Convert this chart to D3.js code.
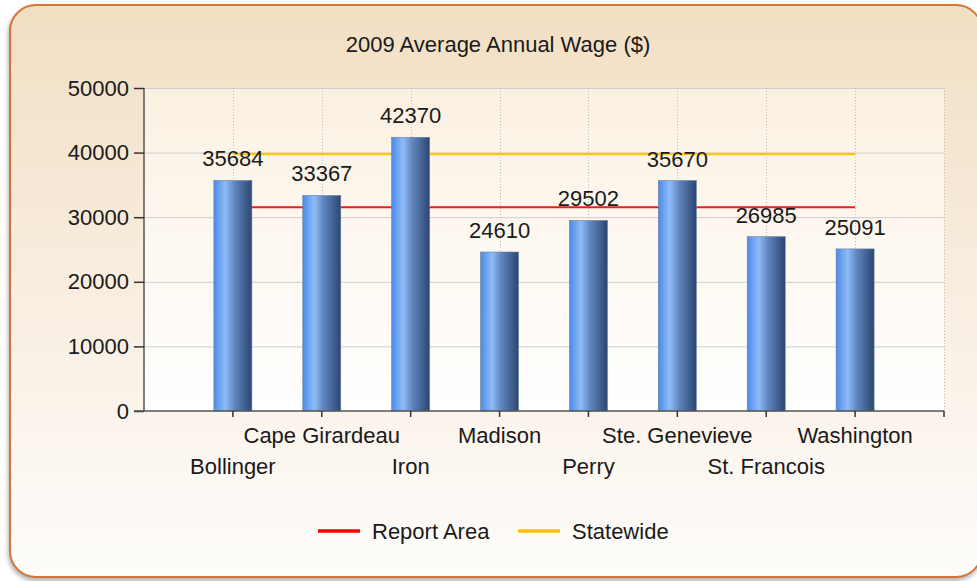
<!DOCTYPE html>
<html>
<head>
<meta charset="utf-8">
<script src="https://d3js.org/d3.v7.min.js"></script>
<style>
  body { margin: 0; background: #ffffff; }
  text { font-family: "Liberation Sans", Arial, sans-serif; fill: #1a1a1a; }
</style>
</head>
<body>
<svg id="chart"></svg>
<script>
// data
const counties = ["Bollinger", "Cape Girardeau", "Iron", "Madison", "Perry", "Ste. Genevieve", "St. Francois", "Washington"];
const wages = [35684, 33367, 42370, 24610, 29502, 35670, 26985, 25091];
const reportArea = [31530, 31530, 31530, 31530, 31530, 31530, 31530, 31530];
const statewide = [39780, 39780, 39780, 39780, 39780, 39780, 39780, 39780];
const yTicks = [0, 10000, 20000, 30000, 40000, 50000];

const width = 977, height = 581;
const plotL = 144, plotR = 944, plotT = 88, plotB = 411;
const fs = "22px";

const svg = d3.select("#chart").attr("width", width).attr("height", height);
const defs = svg.append("defs");

// panel background gradient
const pg = defs.append("linearGradient").attr("id", "panelGrad").attr("x1", 0).attr("y1", 0).attr("x2", 0).attr("y2", 1);
pg.append("stop").attr("offset", "0%").attr("stop-color", "#f2dfc3");
pg.append("stop").attr("offset", "55%").attr("stop-color", "#f9efe3");
pg.append("stop").attr("offset", "100%").attr("stop-color", "#fefdfb");

// plot area gradient
const ag = defs.append("linearGradient").attr("id", "areaGrad").attr("x1", 0).attr("y1", 0).attr("x2", 0).attr("y2", 1);
ag.append("stop").attr("offset", "0%").attr("stop-color", "#fbf1e2");
ag.append("stop").attr("offset", "100%").attr("stop-color", "#ffffff");

// cylinder-ish bar gradient
const bg = defs.append("linearGradient").attr("id", "barGrad").attr("x1", 0).attr("y1", 0).attr("x2", 1).attr("y2", 0);
bg.append("stop").attr("offset", "0%").attr("stop-color", "#4b8ae9");
bg.append("stop").attr("offset", "30%").attr("stop-color", "#8fbbf6");
bg.append("stop").attr("offset", "55%").attr("stop-color", "#5f85bf");
bg.append("stop").attr("offset", "100%").attr("stop-color", "#2b4670");

const shadow = defs.append("filter").attr("id", "shadow").attr("x", "-5%").attr("y", "-5%").attr("width", "110%").attr("height", "110%");
shadow.append("feDropShadow").attr("dx", -1).attr("dy", 3).attr("stdDeviation", 2)
  .attr("flood-color", "#808080").attr("flood-opacity", 0.6);

// outer panel
svg.append("rect")
  .attr("x", 10).attr("y", 5).attr("width", 972).attr("height", 572).attr("rx", 26)
  .attr("fill", "url(#panelGrad)")
  .attr("stroke", "#d27438").attr("stroke-width", 2)
  .attr("filter", "url(#shadow)");

// title
svg.append("text").attr("x", 498).attr("y", 52).attr("text-anchor", "middle")
  .style("font-size", fs).text("2009 Average Annual Wage ($)");

// scales
const x = d3.scaleLinear().domain([0, counties.length + 1]).range([plotL, plotR]);
const y = d3.scaleLinear().domain([0, 50000]).range([plotB, plotT]);
const barW = 38;

// plot area
svg.append("rect").attr("x", plotL).attr("y", plotT).attr("width", plotR - plotL).attr("height", plotB - plotT)
  .attr("fill", "url(#areaGrad)");

// horizontal grid
svg.append("g").selectAll("line").data(yTicks.slice(1)).join("line")
  .attr("x1", plotL).attr("x2", plotR)
  .attr("y1", d => y(d) + 0.5).attr("y2", d => y(d) + 0.5)
  .attr("stroke", "#cccccc").attr("stroke-width", 1);

// vertical dotted grid at categories and right edge
svg.append("g").selectAll("line").data(d3.range(1, counties.length + 2)).join("line")
  .attr("x1", d => Math.round(x(d)) + 0.5).attr("x2", d => Math.round(x(d)) + 0.5)
  .attr("y1", plotT).attr("y2", plotB)
  .attr("stroke", "#bdbdbd").attr("stroke-width", 1).attr("stroke-dasharray", "1,2");

// the two reference lines go behind the bars
const line = d3.line().x((d, i) => x(i + 1)).y(d => y(d));
svg.append("path").datum(reportArea).attr("d", line)
  .attr("fill", "none").attr("stroke", "#f0191e").attr("stroke-width", 2);
svg.append("path").datum(statewide).attr("d", line)
  .attr("fill", "none").attr("stroke", "#f7c81e").attr("stroke-width", 2.5);

// bars
svg.append("g").selectAll("rect").data(wages).join("rect")
  .attr("x", (d, i) => x(i + 1) - barW / 2)
  .attr("y", d => y(d))
  .attr("width", barW)
  .attr("height", d => plotB - y(d))
  .attr("fill", "url(#barGrad)")
  .attr("stroke", "#6b7f99").attr("stroke-width", 0.6);

// value labels
svg.append("g").selectAll("text").data(wages).join("text")
  .attr("x", (d, i) => x(i + 1))
  .attr("y", d => y(d) - 14)
  .attr("text-anchor", "middle")
  .style("font-size", fs)
  .text(d => d);

// y axis
const yAxis = svg.append("g").attr("transform", `translate(${plotL},0)`)
  .call(d3.axisLeft(y).tickValues(yTicks).tickSize(10).tickPadding(5).tickFormat(d3.format("d")));
yAxis.select(".domain").attr("stroke", "#555555").attr("stroke-width", 1.5).attr("d", `M0,${plotT}V${plotB}`);
yAxis.selectAll(".tick line").attr("stroke", "#333333").attr("stroke-width", 1.5);
yAxis.selectAll(".tick text").style("font-size", fs).attr("fill", "#1a1a1a")
  .style("font-family", "Liberation Sans, Arial, sans-serif");

// x axis line and ticks
svg.append("line").attr("x1", plotL - 10).attr("x2", plotR).attr("y1", plotB).attr("y2", plotB)
  .attr("stroke", "#555555").attr("stroke-width", 1.5);
svg.append("g").selectAll("line").data(d3.range(1, counties.length + 2)).join("line")
  .attr("x1", d => x(d)).attr("x2", d => x(d))
  .attr("y1", plotB).attr("y2", plotB + 6)
  .attr("stroke", "#333333").attr("stroke-width", 1.5);

// category labels, staggered on two rows
svg.append("g").selectAll("text").data(counties).join("text")
  .attr("x", (d, i) => x(i + 1))
  .attr("y", (d, i) => i % 2 === 0 ? 474 : 443)
  .attr("text-anchor", "middle")
  .style("font-size", fs)
  .text(d => d);

// legend
svg.append("line").attr("x1", 318).attr("x2", 360).attr("y1", 531).attr("y2", 531)
  .attr("stroke", "#ff0000").attr("stroke-width", 3.5);
svg.append("text").attr("x", 372).attr("y", 539).style("font-size", fs).text("Report Area");
svg.append("line").attr("x1", 518).attr("x2", 560).attr("y1", 531).attr("y2", 531)
  .attr("stroke", "#ffc000").attr("stroke-width", 3.5);
svg.append("text").attr("x", 572).attr("y", 539).style("font-size", fs).text("Statewide");
</script>
</body>
</html>
